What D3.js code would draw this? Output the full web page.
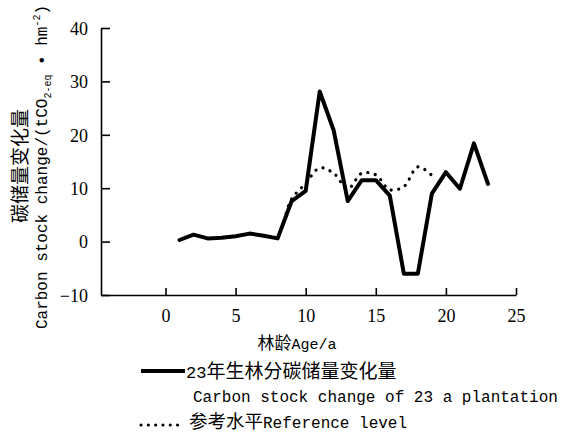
<!DOCTYPE html>
<html>
<head>
<meta charset="utf-8">
<script src="https://cdn.jsdelivr.net/npm/d3@7"></script>
<style>
  body { margin: 0; background: #fff; }
  svg { display: block; }
  .lbl { font-family: "Liberation Mono", "Noto Sans CJK SC", monospace; fill: #000; }
  .cjk { font-family: "Noto Sans CJK SC", sans-serif; }
</style>
</head>
<body>
<div class="graphics"></div>
<script>
// carbon stock change of the 23 a plantation
var ages = [1,2,3,4,5,6,7,8,9,10,11,12,13,14,15,16,17,18,19,20,21,22,23]
var stockChange = [0.3,1.3,0.6,0.7,1.0,1.5,1.1,0.6,7.6,9.5,28.1,20.8,7.6,11.5,11.5,8.6,-6.0,-6.0,9.0,13.0,9.9,18.4,10.8]

// reference level
var refAges = [8.6,9,10,11,12,13,14,15,16,17,18,19]
var refLevel = [5.3,8.0,10.9,13.8,12.8,9.9,12.8,12.5,9.7,10.3,14.0,12.4]

var xTicks = [0,5,10,15,20,25]
var yTicks = [-10,0,10,20,30,40]

var w = 566, h = 434

var x = d3.scaleLinear().domain([-4.6, 25]).range([101, 516])
var y = d3.scaleLinear().domain([-10, 40]).range([295, 28])

var svg = d3.select('.graphics')
    .append('svg')
    .attr("width", w)
    .attr("height", h)

// axes, ticks pointing inward
var xAxis = svg.append('g')
    .attr("transform", "translate(0," + y(-10) + ")")
    .call(d3.axisBottom(x).tickValues(xTicks).tickSizeInner(-7).tickSizeOuter(0).tickPadding(14))
var yAxis = svg.append('g')
    .attr("transform", "translate(" + x(-4.6) + ",0)")
    .call(d3.axisLeft(y).tickValues(yTicks).tickSizeInner(-9).tickSizeOuter(0).tickPadding(13))

svg.selectAll('.domain').attr("stroke", "#000").attr("stroke-width", 1.6)
svg.selectAll('.tick line').attr("stroke", "#000").attr("stroke-width", 1.6)
svg.selectAll('.tick text')
    .attr("font-family", "Liberation Serif")
    .attr("font-size", 18)
    .attr("fill", "#000")
yAxis.selectAll('.tick text').attr("dy", "0.35em")

// lines
var solid = d3.line()
    .x(function(d, i){ return x(ages[i]); })
    .y(function(d){ return y(d); })

svg.append('path')
    .datum(stockChange)
    .attr("d", solid)
    .attr("fill", "none")
    .attr("stroke", "#000")
    .attr("stroke-width", 4)
    .attr("stroke-linejoin", "round")
    .attr("stroke-linecap", "round")

var dotted = d3.line()
    .curve(d3.curveCatmullRom)
    .x(function(d, i){ return x(refAges[i]); })
    .y(function(d){ return y(d); })

svg.append('path')
    .datum(refLevel)
    .attr("d", dotted)
    .attr("fill", "none")
    .attr("stroke", "#000")
    .attr("stroke-width", 3.2)
    .attr("stroke-linecap", "round")
    .attr("stroke-dasharray", "0.1 7.5")

// x title
var xt = svg.append('text')
    .attr("class", "lbl")
    .attr("x", 297)
    .attr("y", 349)
    .attr("text-anchor", "middle")
xt.append('tspan').attr("class", "cjk").attr("font-size", 17).text("林龄")
xt.append('tspan').attr("font-size", 15).text("Age/a")

// y title
svg.append('text')
    .attr("class", "lbl cjk")
    .attr("transform", "translate(27,166) rotate(-90)")
    .attr("text-anchor", "middle")
    .attr("font-size", 19)
    .text("碳储量变化量")

var yt2 = svg.append('text')
    .attr("class", "lbl")
    .attr("transform", "translate(47,167) rotate(-90)")
    .attr("text-anchor", "middle")
    .attr("font-size", 16)
yt2.append('tspan').text("Carbon stock change/(tCO")
yt2.append('tspan').attr("font-size", 10).attr("dy", 4).text("2-eq")
yt2.append('tspan').attr("dy", -4).text(" • hm")
yt2.append('tspan').attr("font-size", 10).attr("dy", -7).text("-2")
yt2.append('tspan').attr("dy", 7).text(")")

// legend
svg.append('line')
    .attr("x1", 141).attr("x2", 185)
    .attr("y1", 371).attr("y2", 371)
    .attr("stroke", "#000").attr("stroke-width", 4)
var l1 = svg.append('text')
    .attr("class", "lbl")
    .attr("x", 186).attr("y", 378)
l1.append('tspan').attr("font-size", 17).text("23")
l1.append('tspan').attr("class", "cjk").attr("font-size", 19).text("年生林分碳储量变化量")
svg.append('text')
    .attr("class", "lbl")
    .attr("x", 193).attr("y", 402)
    .attr("font-size", 16)
    .text("Carbon stock change of 23 a plantation")
svg.append('line')
    .attr("x1", 141).attr("x2", 183)
    .attr("y1", 425).attr("y2", 425)
    .attr("stroke", "#000").attr("stroke-width", 3)
    .attr("stroke-linecap", "round")
    .attr("stroke-dasharray", "0.1 7.2")
var l2 = svg.append('text')
    .attr("class", "lbl")
    .attr("x", 189).attr("y", 428)
l2.append('tspan').attr("class", "cjk").attr("font-size", 18.5).text("参考水平")
l2.append('tspan').attr("font-size", 16).text("Reference level")
</script>
</body>
</html>
